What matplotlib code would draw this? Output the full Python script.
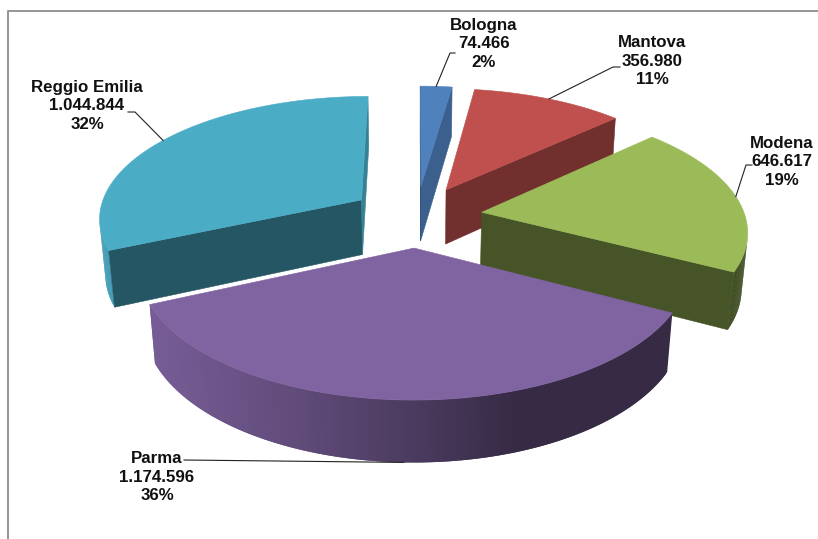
"""Residential population by province: exploded 3D pie, Excel-like look."""
import numpy as np
import matplotlib
matplotlib.use("Agg")
import matplotlib.pyplot as plt
from matplotlib.patches import Polygon

# Data (clockwise from 12 o'clock)
provinces = ["Bologna", "Mantova", "Modena", "Parma", "Reggio Emilia"]
values = [74466, 356980, 646617, 1174596, 1044844]
shares = [2, 11, 19, 36, 32]
colors = ["#4F81BD", "#C0504D", "#9BBB59", "#8064A2", "#4BACC6"]

# Camera / solid (pie radius = 1)
CX, CY = 416.2, 271.6          # screen position of the pie centre (px)
FOCAL, DIST = 1683.1, 6.509    # perspective
ELEV = np.radians(29.4)
THICK = 0.241
EXPLODE = 0.252

# label centres (px) and the elbow where each leader line starts
label_pos = [(484, 44), (652, 61), (782, 162), (157, 477), (87, 106)]
leader_start = [[(455, 53), (450, 53)], [(620, 67), (613, 67)],
                [(752, 165), (746, 165)], [(184, 460)], [(128, 112), (135, 112)]]

SE, CE = np.sin(ELEV), np.cos(ELEV)
CAM = np.array([0.0, -DIST * CE, DIST * SE])
LIGHT = np.array([-1.0, -0.35]) / np.hypot(1.0, 0.35)


def proj(X, Y, Z):
    depth = DIST + Y * CE - Z * SE
    return CX + FOCAL * X / depth, CY - FOCAL * (Y * SE + Z * CE) / depth


def shade(color, f):
    rgb = np.array(matplotlib.colors.to_rgb(color))
    return tuple(np.clip(rgb * f, 0, 1))


def facing(point, normal):
    return np.dot(CAM - np.asarray(point), normal) > 0


def face(ax, pts3d, color, z, edge=True):
    xs, ys = proj(*np.asarray(pts3d).T)
    ax.add_patch(Polygon(np.column_stack([xs, ys]), closed=True, facecolor=color,
                         edgecolor=color if edge else "none", linewidth=0.4, zorder=z))


fig = plt.figure(figsize=(8.18, 5.39), dpi=100)
ax = fig.add_axes([0, 0, 1, 1])
ax.set_xlim(0, 818)
ax.set_ylim(539, 0)
ax.axis("off")

vals = np.array(values, float)
edges = np.concatenate([[0], np.cumsum(vals) / vals.sum() * 360])
mids = np.radians((edges[:-1] + edges[1:]) / 2)

# far slices first
order = np.argsort(-np.cos(mids))
anchors = {}
for rank, i in enumerate(order):
    base_z = 2 + rank * 10
    ox, oy = EXPLODE * np.sin(mids[i]), EXPLODE * np.cos(mids[i])
    t1, t2 = np.radians(edges[i]), np.radians(edges[i + 1])
    th = np.linspace(t1, t2, 160)
    rx, ry = ox + np.sin(th), oy + np.cos(th)
    col = colors[i]

    # outer wall, strip by strip, lit from the front-left;
    # each strip spans two steps so the next one hides the seam
    for k in range(len(th) - 1):
        k2 = min(k + 2, len(th) - 1)
        tm = (th[k] + th[k + 1]) / 2
        n = np.array([np.sin(tm), np.cos(tm), 0.0])
        p = [ox + np.sin(tm), oy + np.cos(tm), THICK / 2]
        if not facing(p, n):
            continue
        lum = 0.42 + 0.5 * max(0.0, np.dot(n[:2], LIGHT))
        face(ax, [(rx[k], ry[k], THICK), (rx[k2], ry[k2], THICK),
                  (rx[k2], ry[k2], 0), (rx[k], ry[k], 0)], shade(col, lum),
             base_z, edge=False)

    # radial cut faces
    for t, n in [(t1, np.array([-np.cos(t1), np.sin(t1), 0.0])),
                 (t2, np.array([np.cos(t2), -np.sin(t2), 0.0]))]:
        ex, ey = ox + np.sin(t), oy + np.cos(t)
        if not facing([ox, oy, THICK / 2], n):
            continue
        lum = 0.45 + 0.3 * max(0.0, n[0]) ** 2
        face(ax, [(ox, oy, THICK), (ex, ey, THICK), (ex, ey, 0), (ox, oy, 0)],
             shade(col, lum), base_z + 1)

    # top
    top = [(ox, oy, THICK)] + [(a, b, THICK) for a, b in zip(rx, ry)]
    face(ax, top, col, base_z + 2)

    # leader target: rim at mid-angle (front slice: foot of the wall)
    z_anchor = 0 if np.cos(mids[i]) < -0.5 else THICK
    anchors[i] = proj(ox + np.sin(mids[i]), oy + np.cos(mids[i]), z_anchor)

# labels + leader lines
for i, name in enumerate(provinces):
    txt = "%s\n%s\n%d%%" % (name, f"{values[i]:,}".replace(",", "."), shares[i])
    ax.text(*label_pos[i], txt, ha="center", va="center", fontsize=12.2,
            fontweight="bold", family=["Liberation Sans", "DejaVu Sans"],
            linespacing=1.3, color="#111111", zorder=80)
    pts = leader_start[i] + [anchors[i]]
    ax.plot([p[0] for p in pts], [p[1] for p in pts], color="#222222",
            linewidth=0.8, zorder=79)

# chart area border
ax.plot([8, 8, 830], [560, 11, 11], color="#8c8c8c", linewidth=1.3, zorder=90,
        clip_on=False)

fig.savefig("out.png", dpi=100, facecolor="white")
